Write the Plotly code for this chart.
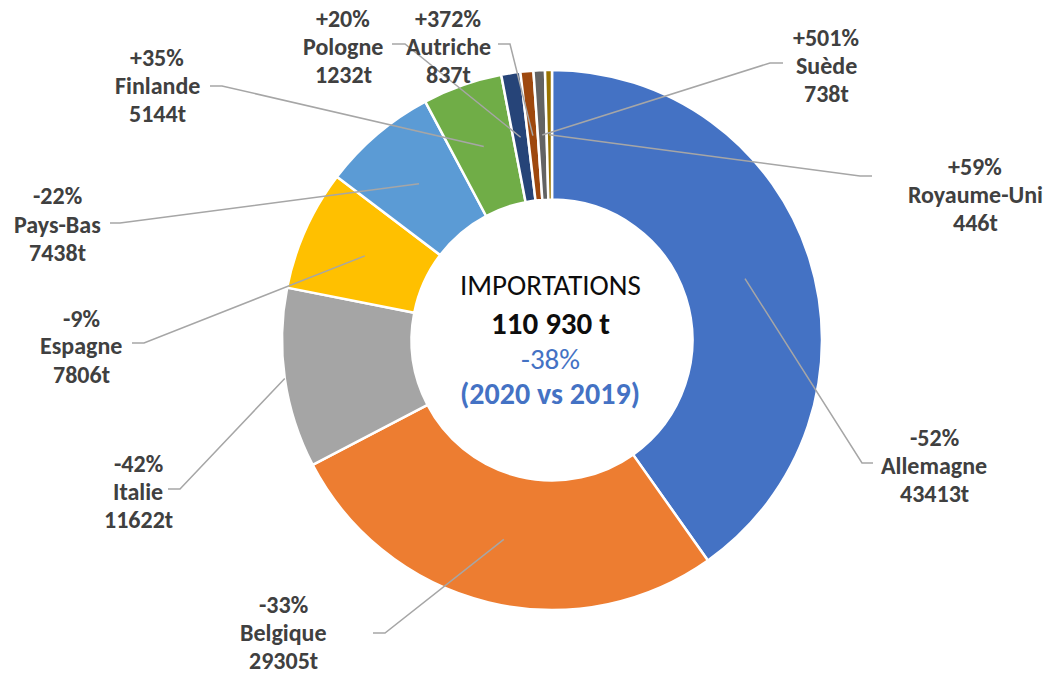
import math
import plotly.graph_objects as go

# ---- data ----
countries = ["Allemagne", "Belgique", "Italie", "Espagne", "Pays-Bas",
             "Finlande", "Pologne", "Autriche", "Suède", "Royaume-Uni"]
tonnes = [43413, 29305, 11622, 7806, 7438, 5144, 1232, 837, 738, 446]
changes = ["-52%", "-33%", "-42%", "-9%", "-22%",
           "+35%", "+20%", "+372%", "+501%", "+59%"]
center_lines = ["IMPORTATIONS", "110 930 t", "-38%", "(2020 vs 2019)"]

# ---- style / layout ----
colors = ["#4472C4", "#ED7D31", "#A5A5A5", "#FFC000", "#5B9BD5",
          "#70AD47", "#264478", "#9E480E", "#636363", "#997300"]
W, H = 1045, 676
CX, CY, R = 552, 340, 270
HOLE = 0.52
FONT = "Carlito, Lato, 'Open Sans', sans-serif"
LINE_GAP = 28

# label centre (px), elbow (px), end of horizontal segment (px), anchor radius fraction
label_pos = [(934, 465), (283, 632), (138, 491), (81, 346), (57, 224),
             (157, 86), (343, 46), (448, 46), (826, 66), (975, 194)]
elbows = [(862, 463), (385, 633), (180, 489), (144, 343), (120, 223),
          (222, 86), (405, 44), (510, 44), (770, 63), (860, 176)]
ends = [(873, 463), (373, 633), (168, 489), (132, 343), (110, 223),
        (210, 86), (392, 44), (498, 44), (783, 63), (872, 176)]
anchor_r = [0.75, 0.76, 1.0, 0.76, 0.76, 0.76, 0.76, 0.76, 0.76, 0.76]


def px(x, y):
    return x / W, 1 - y / H


fig = go.Figure()
fig.add_trace(go.Pie(
    labels=countries, values=tonnes, sort=False, direction="clockwise",
    rotation=0, hole=HOLE, textinfo="none", hoverinfo="label+value",
    marker=dict(colors=colors, line=dict(color="white", width=2.5)),
    domain=dict(x=[(CX - R) / W, (CX + R) / W],
                y=[1 - (CY + R) / H, 1 - (CY - R) / H]),
    showlegend=False,
))

total = sum(tonnes)
cum = 0
shapes = []
annotations = []
for i, v in enumerate(tonnes):
    mid = (cum + v / 2) / total * 2 * math.pi
    cum += v
    r = R * anchor_r[i]
    ax, ay = CX + r * math.sin(mid), CY - r * math.cos(mid)
    p0, p1, p2 = px(ax, ay), px(*elbows[i]), px(*ends[i])
    shapes.append(dict(
        type="path", xref="paper", yref="paper",
        path=f"M {p0[0]},{p0[1]} L {p1[0]},{p1[1]} L {p2[0]},{p2[1]}",
        line=dict(color="#A6A6A6", width=1.5), layer="above"))
    lxp, lyp = label_pos[i]
    for k, txt in enumerate([changes[i], countries[i], f"{v}t"]):
        lx, ly = px(lxp, lyp + (k - 1) * LINE_GAP)
        annotations.append(dict(
            x=lx, y=ly, xref="paper", yref="paper", xanchor="center", yanchor="middle",
            text=f"<b>{txt}</b>", showarrow=False,
            font=dict(family=FONT, size=24, color="#404040")))

center_y = [285, 323, 359, 393]
center_style = [("#0D0D0D", False, 29), ("#0D0D0D", True, 31),
                ("#4472C4", False, 29), ("#4472C4", True, 30)]
for txt, yy, (col, bold, sz) in zip(center_lines, center_y, center_style):
    x0, y0 = px(550, yy)
    annotations.append(dict(
        x=x0, y=y0, xref="paper", yref="paper", xanchor="center", yanchor="middle",
        text=f"<b>{txt}</b>" if bold else txt, showarrow=False,
        font=dict(family=FONT, size=sz, color=col)))

fig.update_layout(
    width=W, height=H, margin=dict(l=0, r=0, t=0, b=0),
    paper_bgcolor="white", plot_bgcolor="white",
    shapes=shapes, annotations=annotations,
)
fig.write_html(
    "out.html",
    config={"displayModeBar": False},
    post_script="document.body.style.margin='0';document.body.style.overflow='hidden';",
)
